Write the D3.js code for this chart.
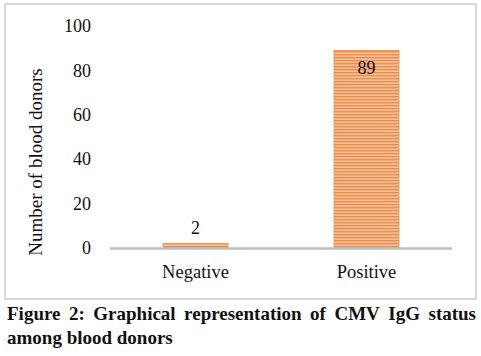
<!DOCTYPE html>
<html><head><meta charset="utf-8">
<script src="https://cdn.jsdelivr.net/npm/d3@7"></script>
<style>html,body{margin:0;padding:0;background:#fff;}svg{display:block;} svg text{font-family:"Liberation Serif","DejaVu Serif","Times New Roman",serif !important;}</style>
</head><body>
<script>
const categories = ["Negative", "Positive"];
const values = [2, 89];
const yTicks = [0, 20, 40, 60, 80, 100];
const yTitle = "Number of blood donors";
const captionLines = ["Figure 2: Graphical representation of CMV IgG status", "among blood donors"];

const W = 481, H = 356;
const svg = d3.select("body").append("svg").attr("width", W).attr("height", H);
const defs = svg.append("defs");
const pat = defs.append("pattern").attr("id","stripes").attr("patternUnits","userSpaceOnUse")
  .attr("width", 6).attr("height", 3);
pat.append("rect").attr("width",6).attr("height",3).attr("fill","#F8C39C");
pat.append("rect").attr("y",0).attr("width",6).attr("height",1.4).attr("fill","#EE8A4A");

const serif = "Liberation Serif";

// chart border
svg.append("rect").attr("x",5).attr("y",4).attr("width",471).attr("height",295)
  .attr("fill","none").attr("stroke","#d9d9d9").attr("stroke-width",2);

const x = d3.scaleBand().domain(categories).range([110, 452]).paddingInner(0.62).paddingOuter(0.31);
const y = d3.scaleLinear().domain([0, 100]).range([248, 26]);

// y axis labels
const yAxis = d3.axisLeft(y).tickValues(yTicks).tickSize(0).tickPadding(0);
const gy = svg.append("g").attr("transform","translate(91,0)").call(yAxis);
gy.select(".domain").remove();
gy.selectAll("text").attr("font-family", serif).attr("font-size", 18).attr("fill","#111");

// bars
svg.selectAll("rect.bar").data(values).enter().append("rect").attr("class","bar")
  .attr("x",(d,i)=>x(categories[i])).attr("width",x.bandwidth())
  .attr("y",d=>y(d)).attr("height",d=>y(0)-y(d))
  .attr("fill","url(#stripes)").attr("stroke","#EE8A4A").attr("stroke-width",0.8);

// baseline
svg.append("line").attr("x1",110).attr("x2",452).attr("y1",y(0)+0.5).attr("y2",y(0)+0.5)
  .attr("stroke","#bfbfbf").attr("stroke-width",2.5);

// x axis labels
const xAxis = d3.axisBottom(x).tickSize(0).tickPadding(0);
const gx = svg.append("g").attr("transform","translate(0,264)").call(xAxis);
gx.select(".domain").remove();
gx.selectAll("text").attr("font-family", serif).attr("font-size", 18.5).attr("fill","#111").attr("dy","0.75em");

// data labels
svg.selectAll("text.lab").data(values).enter().append("text").attr("class","lab")
  .attr("x",(d,i)=>x(categories[i])+x.bandwidth()/2)
  .attr("y",d=> d > 50 ? y(d)+24 : y(d)-10)
  .attr("text-anchor","middle").attr("font-family",serif).attr("font-size",18).attr("fill","#111")
  .text(d=>d);

// y title
svg.append("text").attr("transform","translate(42,162) rotate(-90)")
  .attr("text-anchor","middle").attr("font-family",serif).attr("font-size",19).attr("fill","#111")
  .text(yTitle);

// caption (line 1 justified)
function justify(line, yPos, x0, x1) {
  const words = line.split(" ");
  const g = svg.append("g");
  const ts = words.map(w => g.append("text").attr("font-family",serif).attr("font-weight","bold")
     .attr("font-size",19).attr("fill","#111").attr("y",yPos).text(w));
  const widths = ts.map(t => t.node().getComputedTextLength());
  const total = d3.sum(widths);
  const gap = (x1 - x0 - total) / (words.length - 1);
  let cx = x0;
  ts.forEach((t,i) => { t.attr("x", cx); cx += widths[i] + gap; });
}
justify(captionLines[0], 320, 7, 476);
svg.append("text").attr("x",7).attr("y",344).attr("font-family",serif).attr("font-weight","bold")
  .attr("font-size",19).attr("fill","#111").text(captionLines[1]);
</script>
</body></html>
